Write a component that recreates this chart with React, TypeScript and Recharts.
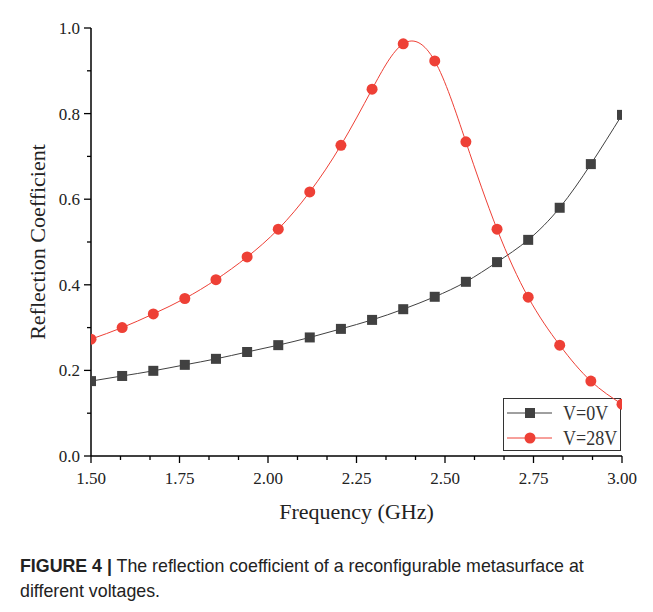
import React from "react";
import { LineChart, Line, XAxis, YAxis, Legend } from "recharts";

const freq = [1.5, 1.588, 1.676, 1.765, 1.853, 1.941, 2.029, 2.118, 2.206, 2.294, 2.382, 2.471, 2.559, 2.647, 2.735, 2.824, 2.912, 3.0];
const v0 = [0.175, 0.187, 0.199, 0.213, 0.227, 0.243, 0.259, 0.277, 0.297, 0.318, 0.343, 0.372, 0.407, 0.453, 0.505, 0.58, 0.682, 0.797];
const v28 = [0.273, 0.3, 0.332, 0.368, 0.412, 0.465, 0.53, 0.617, 0.726, 0.857, 0.963, 0.923, 0.734, 0.53, 0.371, 0.259, 0.175, 0.121];

const xMajor = [1.5, 1.75, 2.0, 2.25, 2.5, 2.75, 3.0];
const xTicks = [1.5, 1.5833, 1.6667, 1.75, 1.8333, 1.9167, 2.0, 2.0833, 2.1667, 2.25, 2.3333, 2.4167, 2.5, 2.5833, 2.6667, 2.75, 2.8333, 2.9167, 3.0];
const yMajor = [0, 0.2, 0.4, 0.6, 0.8, 1.0];
const yTicks = [0, 0.1, 0.2, 0.3, 0.4, 0.5, 0.6, 0.7, 0.8, 0.9, 1.0];

const seriesNames = ["V=0V", "V=28V"];
const BLACK = "#414141";
const RED = "#ee4036";
const SERIF = "'Liberation Serif', 'Times New Roman', serif";

const data = freq.map((f, i) => ({ f, v0: v0[i], v28: v28[i] }));

const isIn = (arr: number[], v: number) => arr.some((m) => Math.abs(m - v) < 1e-6);

const XTick = (props: any) => {
  const { x, y, payload } = props;
  const v = payload.value;
  const major = isIn(xMajor, v);
  return (
    <g>
      <line x1={x} x2={x} y1={y} y2={y + (major ? 7 : 4)} stroke="#000" strokeWidth={1.3} />
      {major && (
        <text x={x} y={y + 28} textAnchor="middle" fontFamily={SERIF} fontSize={17} fill="#222">
          {v.toFixed(2)}
        </text>
      )}
    </g>
  );
};

const YTick = (props: any) => {
  const { x, y, payload } = props;
  const v = payload.value;
  const major = isIn(yMajor, v);
  return (
    <g>
      <line x1={x - (major ? 7 : 4)} x2={x} y1={y} y2={y} stroke="#000" strokeWidth={1.3} />
      {major && (
        <text x={x - 11} y={y + 6} textAnchor="end" fontFamily={SERIF} fontSize={17} fill="#222">
          {v.toFixed(1)}
        </text>
      )}
    </g>
  );
};

const SquareDot = (props: any) => {
  const { cx, cy } = props;
  if (cx == null || cy == null) return null;
  return <rect x={cx - 5} y={cy - 5} width={10} height={10} fill={BLACK} />;
};

const CircleDot = (props: any) => {
  const { cx, cy } = props;
  if (cx == null || cy == null) return null;
  return <circle cx={cx} cy={cy} r={5.5} fill={RED} />;
};

const LegendBox = () => (
  <div
    style={{
      width: 118,
      height: 53,
      border: "1px solid #333",
      background: "#fff",
      boxSizing: "border-box",
      position: "relative",
      fontFamily: SERIF,
    }}
  >
    <svg width={118} height={53} style={{ position: "absolute", left: 0, top: 0 }}>
      <line x1={3} x2={48} y1={14} y2={14} stroke={BLACK} strokeWidth={1} />
      <rect x={21} y={9} width={10} height={10} fill={BLACK} />
      <text transform="translate(59,21) scale(0.9,1)" fontFamily={SERIF} fontSize={20} fill="#333">
        {seriesNames[0]}
      </text>
      <line x1={3} x2={48} y1={39} y2={39} stroke={RED} strokeWidth={1} />
      <circle cx={26} cy={39} r={5.5} fill={RED} />
      <text transform="translate(59,46) scale(0.9,1)" fontFamily={SERIF} fontSize={20} fill="#333">
        {seriesNames[1]}
      </text>
    </svg>
  </div>
);

export default function App() {
  return (
    <div
      style={{
        position: "relative",
        margin: -8,
        width: 653,
        height: 612,
        overflow: "hidden",
        background: "#fff",
      }}
    >
      <div
        style={{
          position: "absolute",
          left: 7,
          top: 6,
          width: 800,
          height: 800,
          borderLeft: "1.5px solid #8c8c8c",
          borderTop: "1.5px solid #8c8c8c",
        }}
      />
      <div style={{ position: "absolute", left: 0, top: 0, zIndex: 0 }}>
        <LineChart
          width={653}
          height={530}
          data={data}
          margin={{ top: 28, right: 31, bottom: 0, left: 0 }}
        >
          <XAxis
            dataKey="f"
            type="number"
            domain={[1.5, 3.0]}
            ticks={xTicks}
            interval={0}
            tick={<XTick />}
            tickLine={false}
            tickSize={0}
            tickMargin={0}
            height={74}
            axisLine={{ stroke: "#000", strokeWidth: 1.5 }}
            allowDataOverflow
            label={{
              value: "Frequency (GHz)",
              position: "insideBottom",
              offset: 11,
              style: { fontFamily: SERIF, fontSize: 22, fill: "#222" },
            }}
          />
          <YAxis
            type="number"
            domain={[0, 1.0]}
            ticks={yTicks}
            interval={0}
            tick={<YTick />}
            tickLine={false}
            tickSize={0}
            tickMargin={0}
            width={91}
            axisLine={{ stroke: "#000", strokeWidth: 1.5 }}
            allowDataOverflow
            label={{
              value: "Reflection Coefficient",
              angle: -90,
              position: "insideLeft",
              offset: 37,
              style: { fontFamily: SERIF, fontSize: 22, fill: "#222", textAnchor: "middle" },
            }}
          />
          <Line
            type="natural"
            dataKey="v0"
            stroke={BLACK}
            strokeWidth={1}
            dot={<SquareDot />}
            activeDot={false}
            isAnimationActive={false}
          />
          <Line
            type="natural"
            dataKey="v28"
            stroke={RED}
            strokeWidth={1}
            dot={<CircleDot />}
            activeDot={false}
            isAnimationActive={false}
          />
          <Legend
            layout="vertical"
            align="center"
            verticalAlign="middle"
            content={<LegendBox />}
            wrapperStyle={{ position: "absolute", left: 503, top: 398, width: 118, height: 53, zIndex: -1 }}
          />
        </LineChart>
      </div>
      <div
        style={{
          position: "absolute",
          left: 20,
          top: 554,
          width: 630,
          fontFamily: "'Liberation Sans', Arial, sans-serif",
          fontSize: 17.8,
          lineHeight: "25px",
          color: "#222",
          whiteSpace: "nowrap",
        }}
      >
        <span style={{ fontWeight: "bold" }}>FIGURE 4 |</span> The reflection coefficient of a reconfigurable metasurface at
        <br />
        different voltages.
      </div>
    </div>
  );
}
